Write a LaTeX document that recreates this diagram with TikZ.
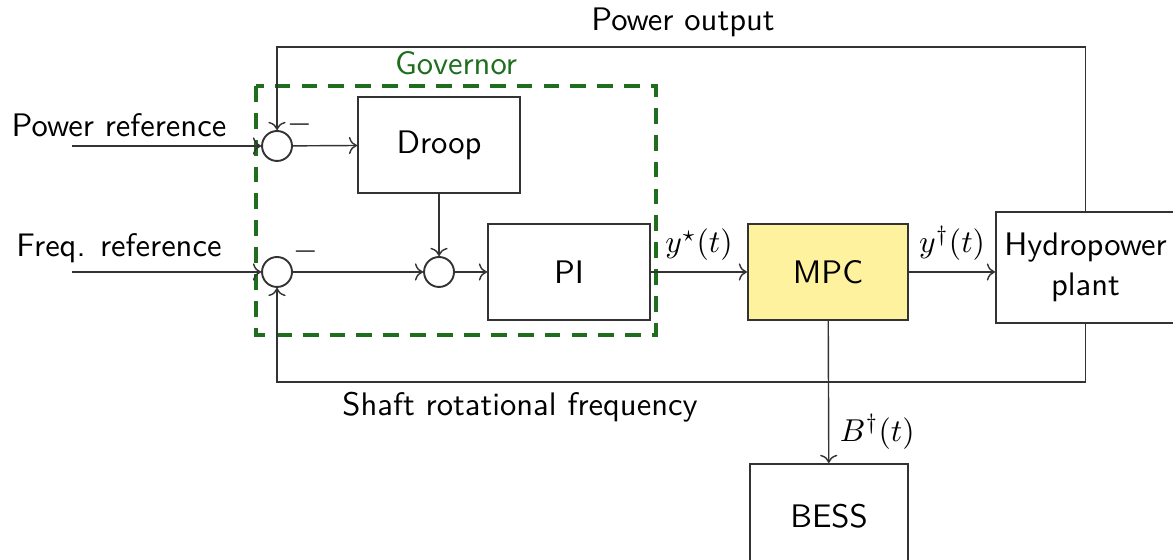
\documentclass[tikz,border=0pt]{standalone}
\usepackage{amsmath,amssymb}
\usetikzlibrary{arrows.meta,positioning,calc}
\definecolor{govgreen}{HTML}{1E6E1E}
\definecolor{mpcyellow}{HTML}{FFF29E}
\definecolor{linegray}{HTML}{333333}
\newcommand{\lblsize}{\fontsize{10.3}{12.6}\selectfont}
\tikzset{
  lbl/.style={font=\sffamily\lblsize,text=black},
  mathlbl/.style={font=\lblsize},
  block/.style={draw=linegray,fill=white,line width=0.6pt,minimum width=1.8cm,minimum height=1.067cm,font=\sffamily\lblsize,align=center},
  sumnode/.style={circle,draw=linegray,fill=white,line width=0.6pt,minimum size=0.333cm,inner sep=0pt},
  arr/.style={->,draw=linegray,line width=0.45pt},
  govbox/.style={draw=govgreen,dashed,dash pattern=on 5pt off 3.5pt,line width=1.1pt}
}
\begin{document}
\begin{tikzpicture}[x=1cm,y=1cm]
\path[use as bounding box] (0,0) rectangle (13.033,6.222);
% governor frame
\draw[govbox] (2.844,5.267) rectangle (7.289,2.5);
\node[lbl,text=govgreen] (govlbl) at (5.067,5.522) {Governor};
% summing junctions and blocks
\node[sumnode] (sum1) at (3.078,4.6) {}; \node[sumnode] (sum2) at (3.078,3.2) {}; \node[sumnode] (sum3) at (4.878,3.2) {};
\node[block] (droop) at (4.878,4.611) {Droop};
\node[block] (pi) at (6.322,3.2) {PI};
\node[block,fill=mpcyellow,minimum width=1.78cm] (mpc) at (9.2,3.2) {MPC};
\node[block,minimum width=1.99cm,minimum height=1.23cm,inner xsep=2pt] (plant) at (12.061,3.25) {Hydropower\\plant};
\node[block,anchor=north,minimum width=1.76cm,minimum height=1.17cm] (bess) at (9.211,1.078) {BESS};
% inputs
\coordinate (pin) at (0.8,4.6); \coordinate (fin) at (0.8,3.2);
\node[lbl] (preflbl) at (1.322,4.833) {Power reference};
\node[lbl] (freflbl) at (1.322,3.467) {Freq. reference};
\node[lbl] (minus1) at (3.333,4.84) {$-$}; \node[lbl] (minus2) at (3.4,3.43) {$-$};
\draw[arr] (pin)--(sum1); \draw[arr] (fin)--(sum2);
\draw[arr] (sum1)--(droop); \draw[arr] (droop)--(sum3); \draw[arr] (sum2)--(sum3); \draw[arr] (sum3)--(pi);
\draw[arr] (pi)-- node[above,mathlbl] (ystar) {$y^\star(t)$} (mpc);
\draw[arr] (mpc)-- node[above,mathlbl] (ydag) {$y^\dagger(t)$} (mpc-|plant.west);
\draw[arr] (mpc)-- node[right,pos=0.78,mathlbl] (bdag) {$B^\dagger(t)$} (bess);
% feedback paths
\coordinate (topline) at (0,5.7); \coordinate (botline) at (0,1.978);
\draw[arr] (plant.north)|-(topline-|sum1)--(sum1);
\draw[arr] (plant.south)|-(botline-|sum2)--(sum2);
\node[lbl] (powout) at (7.589,5.978) {Power output};
\node[lbl] (shaft) at (5.778,1.7) {Shaft rotational frequency};
\end{tikzpicture}
\end{document}
